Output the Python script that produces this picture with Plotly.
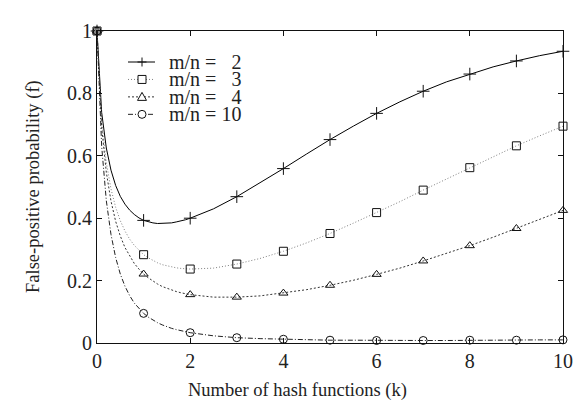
import plotly.graph_objects as go

k_curve = [0.0, 0.1, 0.2, 0.3, 0.4, 0.5, 0.6, 0.7, 0.8, 0.9, 1.0,
           1.1, 1.2, 1.3, 1.4, 1.5, 1.6, 1.7, 1.8, 1.9, 2.0,
           2.5, 3.0, 3.5, 4.0, 4.5, 5.0, 5.5, 6.0, 6.5, 7.0,
           7.5, 8.0, 8.5, 9.0, 9.5, 10.0]

f_mn2 = [1.0, 0.739, 0.625, 0.554, 0.505, 0.470, 0.445, 0.426, 0.412, 0.401, 0.393,
         0.388, 0.385, 0.383, 0.383, 0.383, 0.385, 0.388, 0.391, 0.395, 0.400,
         0.430, 0.469, 0.513, 0.559, 0.606, 0.652, 0.695, 0.736, 0.773, 0.807,
         0.837, 0.862, 0.885, 0.904, 0.921, 0.935]

f_mn3 = [1.0, 0.711, 0.578, 0.494, 0.435, 0.392, 0.359, 0.333, 0.313, 0.297, 0.283,
         0.273, 0.264, 0.257, 0.251, 0.247, 0.243, 0.241, 0.239, 0.238, 0.237,
         0.240, 0.253, 0.271, 0.294, 0.321, 0.351, 0.384, 0.418, 0.453, 0.490,
         0.526, 0.562, 0.597, 0.632, 0.664, 0.695]

f_mn4 = [1.0, 0.691, 0.547, 0.455, 0.390, 0.343, 0.306, 0.278, 0.255, 0.237, 0.221,
         0.209, 0.198, 0.189, 0.181, 0.175, 0.169, 0.165, 0.161, 0.158, 0.155,
         0.147, 0.147, 0.151, 0.160, 0.171, 0.185, 0.201, 0.220, 0.240, 0.263,
         0.287, 0.312, 0.339, 0.367, 0.396, 0.425]

f_mn10 = [1.0, 0.631, 0.456, 0.348, 0.274, 0.221, 0.182, 0.152, 0.128, 0.110, 0.095,
          0.083, 0.073, 0.065, 0.058, 0.052, 0.047, 0.043, 0.039, 0.036, 0.033,
          0.023, 0.017, 0.014, 0.012, 0.010, 0.009, 0.009, 0.008, 0.008, 0.008,
          0.008, 0.009, 0.009, 0.009, 0.010, 0.010]

# marker positions (integer k) and values
k_marks = [0, 1, 2, 3, 4, 5, 6, 7, 8, 9, 10]
m_mn2 = [1.0, 0.393, 0.400, 0.469, 0.559, 0.652, 0.736, 0.807, 0.862, 0.904, 0.935]
m_mn3 = [1.0, 0.283, 0.237, 0.253, 0.294, 0.351, 0.418, 0.490, 0.562, 0.632, 0.695]
m_mn4 = [1.0, 0.221, 0.155, 0.147, 0.160, 0.185, 0.220, 0.263, 0.312, 0.367, 0.425]
m_mn10 = [1.0, 0.095, 0.033, 0.017, 0.012, 0.009, 0.008, 0.008, 0.009, 0.009, 0.010]

labels = ["m/n = \u00a0\u00a02", "m/n = \u00a0\u00a03", "m/n = \u00a0\u00a04", "m/n = 10"]
x_ticks = [0, 2, 4, 6, 8, 10]
y_ticks = [0, 0.2, 0.4, 0.6, 0.8, 1]
y_ticktext = ["0", "0.2", "0.4", "0.6", "0.8", "1"]
x_title = "Number of hash functions (k)"
y_title = "False-positive probability (f)"

INK = "#111111"
series = [
    (f_mn2, m_mn2, labels[0], "#000000", "solid", "cross-thin-open", 9),
    (f_mn3, m_mn3, labels[1], "#808080", "1px,2px", "square-open", 8),
    (f_mn4, m_mn4, labels[2], "#333333", "2px,2px", "triangle-up-open", 8),
    (f_mn10, m_mn10, labels[3], "#222222", "5px,2px,1px,2px", "circle-open", 8),
]

W, H = 583, 405
ML, MR, MT, MB = 89, 28, 13, 70
PW, PH = W - ML - MR, H - MT - MB


def px_x(p):
    return (p - ML) / PW


def px_y(p):
    return (H - MB - p) / PH


fig = go.Figure()
for curve, marks, name, color, dash, sym, size in series:
    fig.add_trace(go.Scatter(x=k_curve, y=curve, mode="lines",
                             line=dict(color=color, width=1, dash=dash),
                             showlegend=False, hoverinfo="skip"))
for curve, marks, name, color, dash, sym, size in series:
    fig.add_trace(go.Scatter(x=k_marks, y=marks, mode="markers", name=name,
                             marker=dict(symbol=sym, size=size, color=INK,
                                         line=dict(color=INK, width=1)),
                             showlegend=False, cliponaxis=False))

serif = "Liberation Serif, Times New Roman, serif"

# manual legend (gnuplot-style, tightly spaced)
shapes = []
annotations = []
row_px = [45, 63, 81, 99]
for (curve, marks, name, color, dash, sym, size), ry in zip(series, row_px):
    yp = px_y(ry)
    shapes.append(dict(type="line", xref="paper", yref="paper",
                       x0=px_x(120), x1=px_x(147), y0=yp, y1=yp,
                       line=dict(color=color, width=1, dash=dash)))
    cx = px_x(134)
    common = dict(xref="paper", yref="paper", xsizemode="pixel", ysizemode="pixel",
                  xanchor=cx, yanchor=yp, line=dict(color=INK, width=1))
    if sym.startswith("cross"):
        shapes.append(dict(type="line", x0=-4.5, x1=4.5, y0=0, y1=0, **common))
        shapes.append(dict(type="line", x0=0, x1=0, y0=-4.5, y1=4.5, **common))
    elif sym.startswith("square"):
        shapes.append(dict(type="rect", x0=-4, x1=4, y0=-4, y1=4,
                           fillcolor="white", **common))
    elif sym.startswith("triangle"):
        shapes.append(dict(type="path", path="M -4.5 -3.5 L 4.5 -3.5 L 0 4.5 Z",
                           fillcolor="white", **common))
    else:
        shapes.append(dict(type="circle", x0=-4, x1=4, y0=-4, y1=4,
                           fillcolor="white", **common))
    annotations.append(dict(text=name, xref="paper", yref="paper",
                            x=px_x(159), y=yp, xanchor="left", yanchor="middle",
                            showarrow=False, font=dict(family=serif, size=20, color="#222222")))

annotations.append(dict(text=x_title, xref="paper", yref="paper",
                        x=px_x(289), y=px_y(384), xanchor="center", yanchor="middle",
                        showarrow=False, font=dict(family=serif, size=18.5, color="#222222")))
annotations.append(dict(text=y_title, xref="paper", yref="paper", textangle=-90,
                        x=px_x(25), y=px_y(174), xanchor="center", yanchor="middle",
                        showarrow=False, font=dict(family=serif, size=18.5, color="#222222")))

fig.update_layout(
    width=W, height=H,
    margin=dict(l=ML, r=MR, t=MT, b=MB),
    plot_bgcolor="white", paper_bgcolor="white",
    font=dict(family=serif, size=20, color="#222222"),
    showlegend=False,
    shapes=shapes,
    annotations=annotations,
    xaxis=dict(range=[0, 10], tickvals=x_ticks, ticks="inside", ticklen=5,
               mirror="allticks", showline=True, linecolor=INK, linewidth=1,
               showgrid=False, zeroline=False, tickcolor=INK,
               tickfont=dict(size=20)),
    yaxis=dict(range=[0, 1], tickvals=y_ticks, ticktext=y_ticktext, ticks="inside", ticklen=5,
               mirror="allticks", showline=True, linecolor=INK, linewidth=1,
               showgrid=False, zeroline=False, tickcolor=INK,
               tickfont=dict(size=20)),
)

fig.write_html("out.html")
